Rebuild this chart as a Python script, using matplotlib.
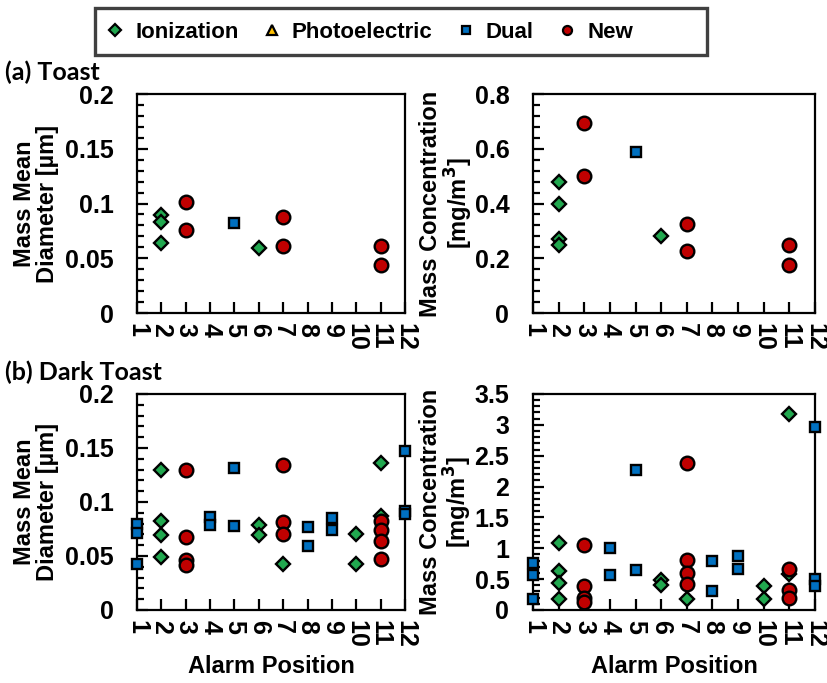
import matplotlib
matplotlib.use("Agg")
import matplotlib.pyplot as plt
from matplotlib.lines import Line2D
from matplotlib.patches import Rectangle
from matplotlib.ticker import MultipleLocator

plt.rcParams.update({
    "font.family": ["Liberation Sans", "DejaVu Sans"],
    "font.weight": "bold",
    "axes.labelweight": "bold",
    "font.size": 16,
    "axes.linewidth": 1.6,
    "mathtext.default": "bf",
})

# ---- data: (a) Toast ----
toast_mmd_ion_x = [2, 2, 2, 6]
toast_mmd_ion_y = [0.0897, 0.0827, 0.0635, 0.059]
toast_mmd_dual_x = [5]
toast_mmd_dual_y = [0.082]
toast_mmd_new_x = [3, 3, 7, 7, 11, 11]
toast_mmd_new_y = [0.1018, 0.0754, 0.0875, 0.0608, 0.0608, 0.0438]

toast_mc_ion_x = [2, 2, 2, 2, 6]
toast_mc_ion_y = [0.477, 0.400, 0.270, 0.247, 0.280]
toast_mc_dual_x = [5]
toast_mc_dual_y = [0.587]
toast_mc_new_x = [3, 3, 7, 7, 11, 11]
toast_mc_new_y = [0.693, 0.502, 0.325, 0.225, 0.249, 0.174]

# ---- data: (b) Dark Toast ----
dark_mmd_ion_x = [2, 2, 2, 2, 6, 6, 7, 10, 10, 11, 11]
dark_mmd_ion_y = [0.130, 0.0824, 0.0691, 0.0494, 0.0784, 0.0691, 0.0426,
                  0.070, 0.0426, 0.1364, 0.087]
dark_mmd_dual_x = [1, 1, 1, 4, 4, 5, 5, 8, 8, 9, 9, 12, 12, 12]
dark_mmd_dual_y = [0.0793, 0.071, 0.0429, 0.0864, 0.0784, 0.1318, 0.078,
                   0.0772, 0.0596, 0.0849, 0.0741, 0.1472, 0.0917, 0.089]
dark_mmd_new_x = [3, 3, 3, 3, 7, 7, 7, 11, 11, 11, 11]
dark_mmd_new_y = [0.130, 0.0679, 0.0463, 0.0414, 0.1346, 0.0818, 0.070,
                  0.0821, 0.0741, 0.0636, 0.0472]

dark_mc_ion_x = [2, 2, 2, 2, 6, 6, 7, 10, 10, 11, 11]
dark_mc_ion_y = [1.08, 0.637, 0.432, 0.173, 0.486, 0.41, 0.184, 0.389, 0.173,
                 3.17, 0.59]
dark_mc_dual_x = [1, 1, 1, 4, 4, 5, 5, 8, 8, 9, 9, 12, 12, 12]
dark_mc_dual_y = [0.767, 0.567, 0.173, 0.999, 0.567, 2.27, 0.648, 0.80, 0.313,
                  0.88, 0.67, 2.97, 0.502, 0.394]
dark_mc_new_x = [3, 3, 3, 3, 7, 7, 7, 7, 11, 11, 11]
dark_mc_new_y = [1.048, 0.389, 0.189, 0.135, 2.387, 0.81, 0.605, 0.421,
                 0.664, 0.324, 0.189]

# photoelectric alarms recorded no points here
photo_x = []
photo_y = []

positions = list(range(1, 13))

GREEN = "#21A84F"
YELLOW = "#FFC000"
BLUE = "#0070C0"
RED = "#C00000"

style = {
    "ion": dict(marker="D", ms=7.3, mfc=GREEN),
    "photo": dict(marker="^", ms=8, mfc=YELLOW),
    "dual": dict(marker="s", ms=7.6, mfc=BLUE),
    "new": dict(marker="o", ms=9.8, mfc=RED),
}


def draw(ax, ion, dual, new, ymax, major, minor):
    for key, (xs, ys) in [("ion", ion), ("photo", (photo_x, photo_y)),
                          ("dual", dual), ("new", new)]:
        ax.plot(xs, ys, ls="none", mec="black", mew=1.7, clip_on=False,
                zorder=3, **style[key])
    ax.set_xlim(1, 12)
    ax.set_ylim(0, ymax)
    ax.set_xticks(positions)
    ax.set_xticklabels([str(p) for p in positions], rotation=270,
                       ha="center", va="top")
    ax.yaxis.set_major_locator(MultipleLocator(major))
    ax.yaxis.set_minor_locator(MultipleLocator(minor))
    ax.yaxis.set_major_formatter(plt.FuncFormatter(lambda v, p: f"{v:g}"))
    # Excel style: short tick marks pointing into the plot
    ax.tick_params(which="both", direction="in", color="black", width=1.6)
    ax.tick_params(which="major", length=8, labelsize=18)
    ax.tick_params(which="minor", length=5)
    ax.tick_params(axis="y", which="both", pad=17)
    ax.tick_params(axis="x", pad=7)


fig = plt.figure(figsize=(8.28, 6.83), dpi=100)

ax_tl = fig.add_axes([0.1655, 0.5417, 0.3237, 0.3206])
ax_tr = fig.add_axes([0.6437, 0.5417, 0.3406, 0.3206])
ax_bl = fig.add_axes([0.1655, 0.1069, 0.3237, 0.3163])
ax_br = fig.add_axes([0.6437, 0.1069, 0.3406, 0.3163])

draw(ax_tl, (toast_mmd_ion_x, toast_mmd_ion_y),
     (toast_mmd_dual_x, toast_mmd_dual_y),
     (toast_mmd_new_x, toast_mmd_new_y), 0.2, 0.05, 0.01)
draw(ax_tr, (toast_mc_ion_x, toast_mc_ion_y),
     (toast_mc_dual_x, toast_mc_dual_y),
     (toast_mc_new_x, toast_mc_new_y), 0.8, 0.2, 0.04)
draw(ax_bl, (dark_mmd_ion_x, dark_mmd_ion_y),
     (dark_mmd_dual_x, dark_mmd_dual_y),
     (dark_mmd_new_x, dark_mmd_new_y), 0.2, 0.05, 0.01)
draw(ax_br, (dark_mc_ion_x, dark_mc_ion_y),
     (dark_mc_dual_x, dark_mc_dual_y),
     (dark_mc_new_x, dark_mc_new_y), 3.5, 0.5, 0.1)

for ax in (ax_tl, ax_bl):
    ax.set_ylabel("Mass Mean\nDiameter [µm]", fontsize=17, labelpad=4,
                  linespacing=1.0)
for ax in (ax_tr, ax_br):
    ax.set_ylabel("Mass Concentration\n[mg/m$^3$]", fontsize=17,
                  labelpad=0, linespacing=1.0)
for ax in (ax_bl, ax_br):
    ax.set_xlabel("Alarm Position", fontsize=17, labelpad=5)

fig.text(0.006, 0.894, "(a) Toast", fontsize=18, family=["Lato", "DejaVu Sans"],
         fontweight="bold", va="center", ha="left")
fig.text(0.006, 0.455, "(b) Dark Toast", fontsize=18,
         family=["Lato", "DejaVu Sans"], fontweight="bold", va="center",
         ha="left")

# legend box drawn separately (Excel leaves extra room on the right)
fig.patches.append(Rectangle((95 / 828, 1 - 55 / 683), 612 / 828, 47 / 683,
                             transform=fig.transFigure, fill=False,
                             ec="#404040", lw=2.4))

handles = [
    Line2D([], [], ls="none", marker="D", ms=6.5, mfc=GREEN, mec="black", mew=1.6),
    Line2D([], [], ls="none", marker="^", ms=7.5, mfc=YELLOW, mec="black", mew=1.6),
    Line2D([], [], ls="none", marker="s", ms=6, mfc=BLUE, mec="black", mew=1.6),
    Line2D([], [], ls="none", marker="o", ms=6.5, mfc=RED, mec="black", mew=1.6),
]
labels = ["Ionization", "Photoelectric", "Dual", "New"]
fig.legend(handles, labels, loc="center left",
           bbox_to_anchor=(104 / 828, 1 - 32 / 683), ncol=4, fontsize=16,
           frameon=False, handlelength=1.0, handletextpad=0.4,
           columnspacing=1.0, borderpad=0.0, borderaxespad=0.0)

fig.savefig("out.png", dpi=100)
